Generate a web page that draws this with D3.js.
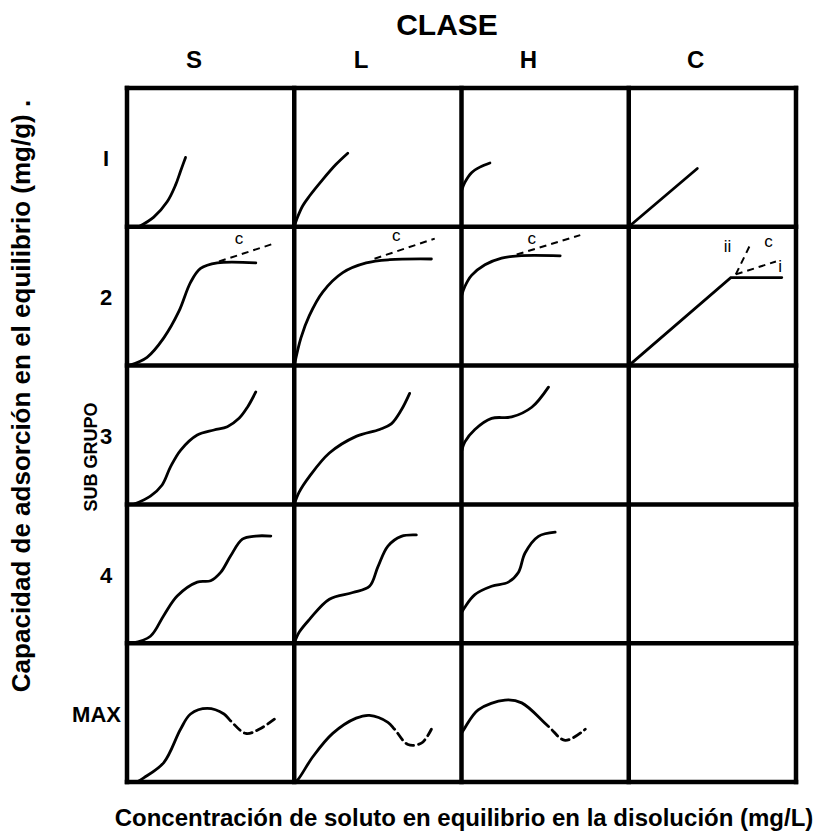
<!DOCTYPE html>
<html>
<head>
<meta charset="utf-8">
<script src="https://cdn.jsdelivr.net/npm/d3@7"></script>
<style>
	body { margin: 0; background: #fff; }
	svg { display: block; font-family: "Liberation Sans", Arial, sans-serif; }
</style>
</head>
<body>
<svg id="chart"></svg>
<script>
// categories
const clases = ['S', 'L', 'H', 'C'];
const subgrupos = ['I', '2', '3', '4', 'MAX'];

// curve points in cell units (0-100 on each axis, origin bottom-left of the cell)
const s1 = [[7, 0], [16, 7], [24, 18], [29, 30], [32, 40], [35, 50]];
const l1 = [[0, 0], [2, 7], [5, 15], [9, 22], [17, 34], [25, 45], [32, 53]];
const h1 = [[0, 26], [2, 32], [6, 39], [11, 43], [17, 46]];
const c1 = [[0, 0], [41, 42]];

const s2 = [[1, 0], [12, 6], [22, 20], [31, 39], [38, 60], [44, 70], [54, 74], [77, 74]];
const l2 = [[0, 0], [4, 20], [9, 36], [17, 53], [29, 67], [43, 74], [57, 76.3], [82, 76.8]];
const h2 = [[0, 50], [2, 57], [6, 65], [14, 72.7], [24, 77.5], [34, 79.1], [59, 79.1]];
const c2 = [[0, 0], [61, 63.4], [91.5, 63.4]];

const s3 = [[4, 0], [14, 6], [21, 14], [26, 27], [32, 39], [42, 50], [52, 53.6], [60, 56], [67, 62], [72, 70], [77, 81]];
const l3 = [[0, 0], [3, 9], [9, 20], [21, 37], [37, 49], [51, 54], [58, 58], [64, 68], [69, 80]];
const h3 = [[0, 38], [2, 45], [8, 54], [18, 62], [30, 63], [42, 70], [52, 84.5]];

const s4 = [[3, 0], [14, 5], [22, 20], [30, 34], [42, 44], [50, 45], [56, 51], [62, 63], [69, 75], [77, 77.2], [86, 77.2]];
const l4 = [[0, 0], [3, 8], [9, 17], [21, 31.7], [35, 36.5], [45, 41], [50, 55], [56, 70], [64, 77], [73, 78]];
const h4 = [[0, 22], [2, 26], [8, 35], [18, 41], [28, 44], [34, 51], [38, 65], [46, 77], [56, 80]];

const sMax = [[6, 0], [10, 3], [22, 14], [32, 38], [38, 49], [48, 53], [58, 49], [62, 44], [71, 35], [79, 38], [89, 46]];
const lMax = [[0, 0], [2, 1.5], [11, 18], [23, 35], [37, 46], [45, 48], [56, 43], [60, 38], [68, 27], [76, 28], [82, 38]];
const hMax = [[0, 35], [2, 39], [10, 52], [26, 59], [36, 57], [52, 40], [62, 30], [74, 38]];

// dashed "c" branches of subgroup 2
const ramaS2 = [[55, 75], [88, 88]];
const ramaL2 = [[48, 77], [84, 91.5]];
const ramaH2 = [[33, 80], [71, 94]];
const ramaC2i = [[64, 65.7], [88, 75]];
const ramaC2ii = [[64, 65.7], [73, 88]];

// table built from the arrays above
const curvas = [
	{ clase: 'S', sub: 'I', pts: s1 },
	{ clase: 'L', sub: 'I', pts: l1 },
	{ clase: 'H', sub: 'I', pts: h1 },
	{ clase: 'C', sub: 'I', pts: c1, recta: true },
	{ clase: 'S', sub: '2', pts: s2 },
	{ clase: 'L', sub: '2', pts: l2 },
	{ clase: 'H', sub: '2', pts: h2 },
	{ clase: 'C', sub: '2', pts: c2, recta: true },
	{ clase: 'S', sub: '3', pts: s3 },
	{ clase: 'L', sub: '3', pts: l3 },
	{ clase: 'H', sub: '3', pts: h3 },
	{ clase: 'S', sub: '4', pts: s4 },
	{ clase: 'L', sub: '4', pts: l4 },
	{ clase: 'H', sub: '4', pts: h4 },
	{ clase: 'S', sub: 'MAX', pts: sMax, corte: 62 },
	{ clase: 'L', sub: 'MAX', pts: lMax, corte: 60 },
	{ clase: 'H', sub: 'MAX', pts: hMax, corte: 52 },
];

const ramas = [
	{ clase: 'S', sub: '2', pts: ramaS2 },
	{ clase: 'L', sub: '2', pts: ramaL2 },
	{ clase: 'H', sub: '2', pts: ramaH2 },
	{ clase: 'C', sub: '2', pts: ramaC2i },
	{ clase: 'C', sub: '2', pts: ramaC2ii },
];

const etiquetas = [
	{ clase: 'S', sub: '2', text: 'c', pos: [67, 92] },
	{ clase: 'L', sub: '2', text: 'c', pos: [61, 94] },
	{ clase: 'H', sub: '2', text: 'c', pos: [42, 92] },
	{ clase: 'C', sub: '2', text: 'ii', pos: [59, 86] },
	{ clase: 'C', sub: '2', text: 'c', pos: [83.6, 90] },
	{ clase: 'C', sub: '2', text: 'i', pos: [90.5, 72] },
];

const W = 825, H = 832;

const svg = d3.select('#chart').attr('width', W).attr('height', H);

const col = d3.scaleBand().domain(clases).range([127, 796]);
const row = d3.scaleBand().domain(subgrupos).range([88, 782]);

function cellScales(c, r) {
	let x = d3.scaleLinear().domain([0, 100]).range([col(c), col(c) + col.bandwidth()]);
	let y = d3.scaleLinear().domain([0, 100]).range([row(r) + row.bandwidth(), row(r)]);
	return { x, y };
}

const plot = svg.append('g');

// isotherm curves
curvas.forEach((d) => {
	let s = cellScales(d.clase, d.sub);
	let line = d3.line()
		.x((p) => s.x(p[0]))
		.y((p) => s.y(p[1]))
		.curve(d.recta ? d3.curveLinear : d3.curveCatmullRom.alpha(0.5));

	let path = plot.append('path')
		.attr('d', line(d.pts))
		.attr('fill', 'none')
		.attr('stroke', '#000')
		.attr('stroke-width', 2.8)
		.attr('stroke-linecap', 'round');

	// MAX curves: solid up to "corte", dashed afterwards
	if (d.corte !== undefined) {
		let node = path.node();
		let total = node.getTotalLength();
		let xc = s.x(d.corte);
		let lo = 0, hi = total;
		for (let i = 0; i < 30; i++) {
			let mid = (lo + hi) / 2;
			if (node.getPointAtLength(mid).x < xc) lo = mid; else hi = mid;
		}
		let dashes = [lo];
		let acc = lo;
		while (acc < total + 20) {
			dashes.push(5, 8);
			acc += 13;
		}
		path.attr('stroke-dasharray', dashes.join(','));
	}
});

// dashed branches
ramas.forEach((d) => {
	let s = cellScales(d.clase, d.sub);
	plot.append('path')
		.attr('d', d3.line().x((p) => s.x(p[0])).y((p) => s.y(p[1]))(d.pts))
		.attr('fill', 'none')
		.attr('stroke', '#000')
		.attr('stroke-width', 2)
		.attr('stroke-dasharray', '7,5');
});

plot.selectAll('.rama-label')
	.data(etiquetas)
	.join('text')
	.attr('class', 'rama-label')
	.attr('x', (d) => cellScales(d.clase, d.sub).x(d.pos[0]))
	.attr('y', (d) => cellScales(d.clase, d.sub).y(d.pos[1]))
	.attr('text-anchor', 'middle')
	.attr('dy', '0.35em')
	.style('font-size', '17px')
	.text((d) => d.text);

// grid
const xEdges = clases.map((c) => col(c)).concat(col.range()[1]);
const yEdges = subgrupos.map((r) => row(r)).concat(row.range()[1]);

const grid = svg.append('g')
	.attr('stroke', '#000')
	.attr('stroke-width', 4.5)
	.attr('stroke-linecap', 'square');

grid.selectAll('.vline')
	.data(xEdges)
	.join('line')
	.attr('class', 'vline')
	.attr('x1', (d) => d).attr('x2', (d) => d)
	.attr('y1', yEdges[0]).attr('y2', yEdges[yEdges.length - 1]);

grid.selectAll('.hline')
	.data(yEdges)
	.join('line')
	.attr('class', 'hline')
	.attr('y1', (d) => d).attr('y2', (d) => d)
	.attr('x1', xEdges[0]).attr('x2', xEdges[xEdges.length - 1]);

// titles and labels
svg.append('text')
	.attr('x', 447)
	.attr('y', 35)
	.attr('text-anchor', 'middle')
	.style('font-size', '30px')
	.style('font-weight', 'bold')
	.text('CLASE');

svg.selectAll('.clase-label')
	.data(clases)
	.join('text')
	.attr('class', 'clase-label')
	.attr('x', (d) => col(d) + col.bandwidth() * 0.4)
	.attr('y', 68)
	.attr('text-anchor', 'middle')
	.style('font-size', '24px')
	.style('font-weight', 'bold')
	.text((d) => d);

svg.selectAll('.sub-label')
	.data(subgrupos)
	.join('text')
	.attr('class', 'sub-label')
	.attr('x', (d) => (d === 'MAX' ? 121 : 106))
	.attr('y', (d) => row(d) + row.bandwidth() / 2 + 9)
	.attr('text-anchor', (d) => (d === 'MAX' ? 'end' : 'middle'))
	.style('font-size', '22px')
	.style('font-weight', 'bold')
	.text((d) => d);

svg.append('text')
	.attr('transform', 'translate(97,457) rotate(-90)')
	.attr('text-anchor', 'middle')
	.style('font-size', '18px')
	.style('font-weight', 'bold')
	.text('SUB GRUPO');

svg.append('text')
	.attr('transform', 'translate(30,396) rotate(-90)')
	.attr('text-anchor', 'middle')
	.style('font-size', '26px')
	.style('font-weight', 'bold')
	.text('Capacidad de adsorción en el equilibrio (mg/g) .');

svg.append('text')
	.attr('x', 464)
	.attr('y', 826)
	.attr('text-anchor', 'middle')
	.style('font-size', '24px')
	.style('font-weight', 'bold')
	.text('Concentración de soluto en equilibrio en la disolución (mg/L)');
</script>
</body>
</html>
